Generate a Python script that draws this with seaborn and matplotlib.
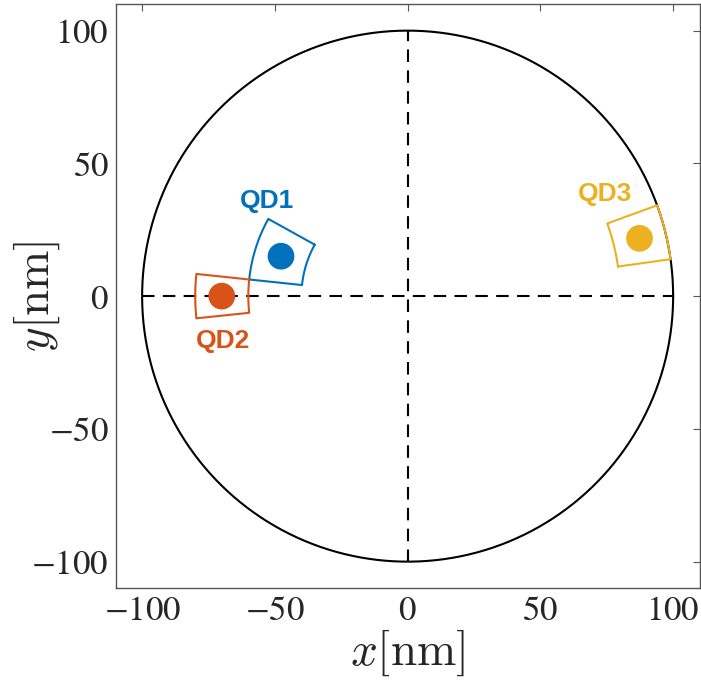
import numpy as np
import pandas as pd
import matplotlib
matplotlib.use("Agg")
import matplotlib.pyplot as plt
import seaborn as sns

sns.set_style("white")
plt.rcParams.update({
    "font.family": "Liberation Serif",
    "mathtext.fontset": "stix",
    "xtick.direction": "in",
    "ytick.direction": "in",
    "xtick.top": True,
    "ytick.right": True,
})

# quantum dot data (polar: radius in nm, angle in degrees)
qd_names = ["QD1", "QD2", "QD3"]
qd_r = [50, 70, 90]
qd_theta = [162.5, 180, 14]
qd_r_min = [40, 60, 80]
qd_r_max = [60, 80, 100]
qd_th_min = [151, 174, 8]
qd_th_max = [174, 186, 20]
qd_label_x = [-52.8, -69.7, 74.2]
qd_label_y = [36, -17, 38.3]
qd_colors = ["#0072BD", "#D95319", "#EDB120"]

disk_radius = 100

fig = plt.figure(figsize=(7.01, 6.8), dpi=100)
ax = fig.add_axes([0.164, 0.135, 0.835, 0.859])

# disk boundary
phi = np.linspace(0, 2 * np.pi, 400)
ax.plot(disk_radius * np.cos(phi), disk_radius * np.sin(phi), color="black", lw=1.5)
ax.plot([-disk_radius, disk_radius], [0, 0], color="black", lw=1.5, ls=(0, (6, 4)))
ax.plot([0, 0], [-disk_radius, disk_radius], color="black", lw=1.5, ls=(0, (6, 4)))

# polar boxes around each dot
for i in range(len(qd_names)):
    t = np.deg2rad(np.linspace(qd_th_min[i], qd_th_max[i], 50))
    r_out = np.full_like(t, qd_r_max[i])
    r_in = np.full_like(t, qd_r_min[i])
    rr = np.concatenate([r_in, r_out[::-1], r_in[:1]])
    tt = np.concatenate([t, t[::-1], t[:1]])
    ax.plot(rr * np.cos(tt), rr * np.sin(tt), color=qd_colors[i], lw=1.5)

df = pd.DataFrame({
    "name": qd_names,
    "x": [r * np.cos(np.deg2rad(a)) for r, a in zip(qd_r, qd_theta)],
    "y": [r * np.sin(np.deg2rad(a)) for r, a in zip(qd_r, qd_theta)],
})
sns.scatterplot(data=df, x="x", y="y", hue="name", palette=qd_colors,
                s=370, edgecolor="none", legend=False, ax=ax, zorder=5)

for i, name in enumerate(qd_names):
    ax.text(qd_label_x[i], qd_label_y[i], name, color=qd_colors[i],
            fontsize=19, fontweight="bold", family="Liberation Sans",
            ha="center", va="center")

ax.set_xlim(-110, 110)
ax.set_ylim(-110, 110)
ax.set_aspect("equal")
ticks = [-100, -50, 0, 50, 100]
ax.set_xticks(ticks)
ax.set_yticks(ticks)
ax.set_xticklabels(["$-100$", "$-50$", "$0$", "$50$", "$100$"])
ax.set_yticklabels(["$-100$", "$-50$", "$0$", "$50$", "$100$"])
ax.tick_params(labelsize=25, length=5, color="#555555", pad=5)
for sp in ax.spines.values():
    sp.set_color("#555555")
    sp.set_linewidth(1.0)
ax.set_xlabel(r"$x[\mathrm{nm}]$", fontsize=34, math_fontfamily="cm")
ax.set_ylabel(r"$y[\mathrm{nm}]$", fontsize=34, math_fontfamily="cm")
ax.xaxis.set_label_coords(0.5, -0.067)
ax.yaxis.set_label_coords(-0.091, 0.5)

fig.savefig("out.png", dpi=100)
